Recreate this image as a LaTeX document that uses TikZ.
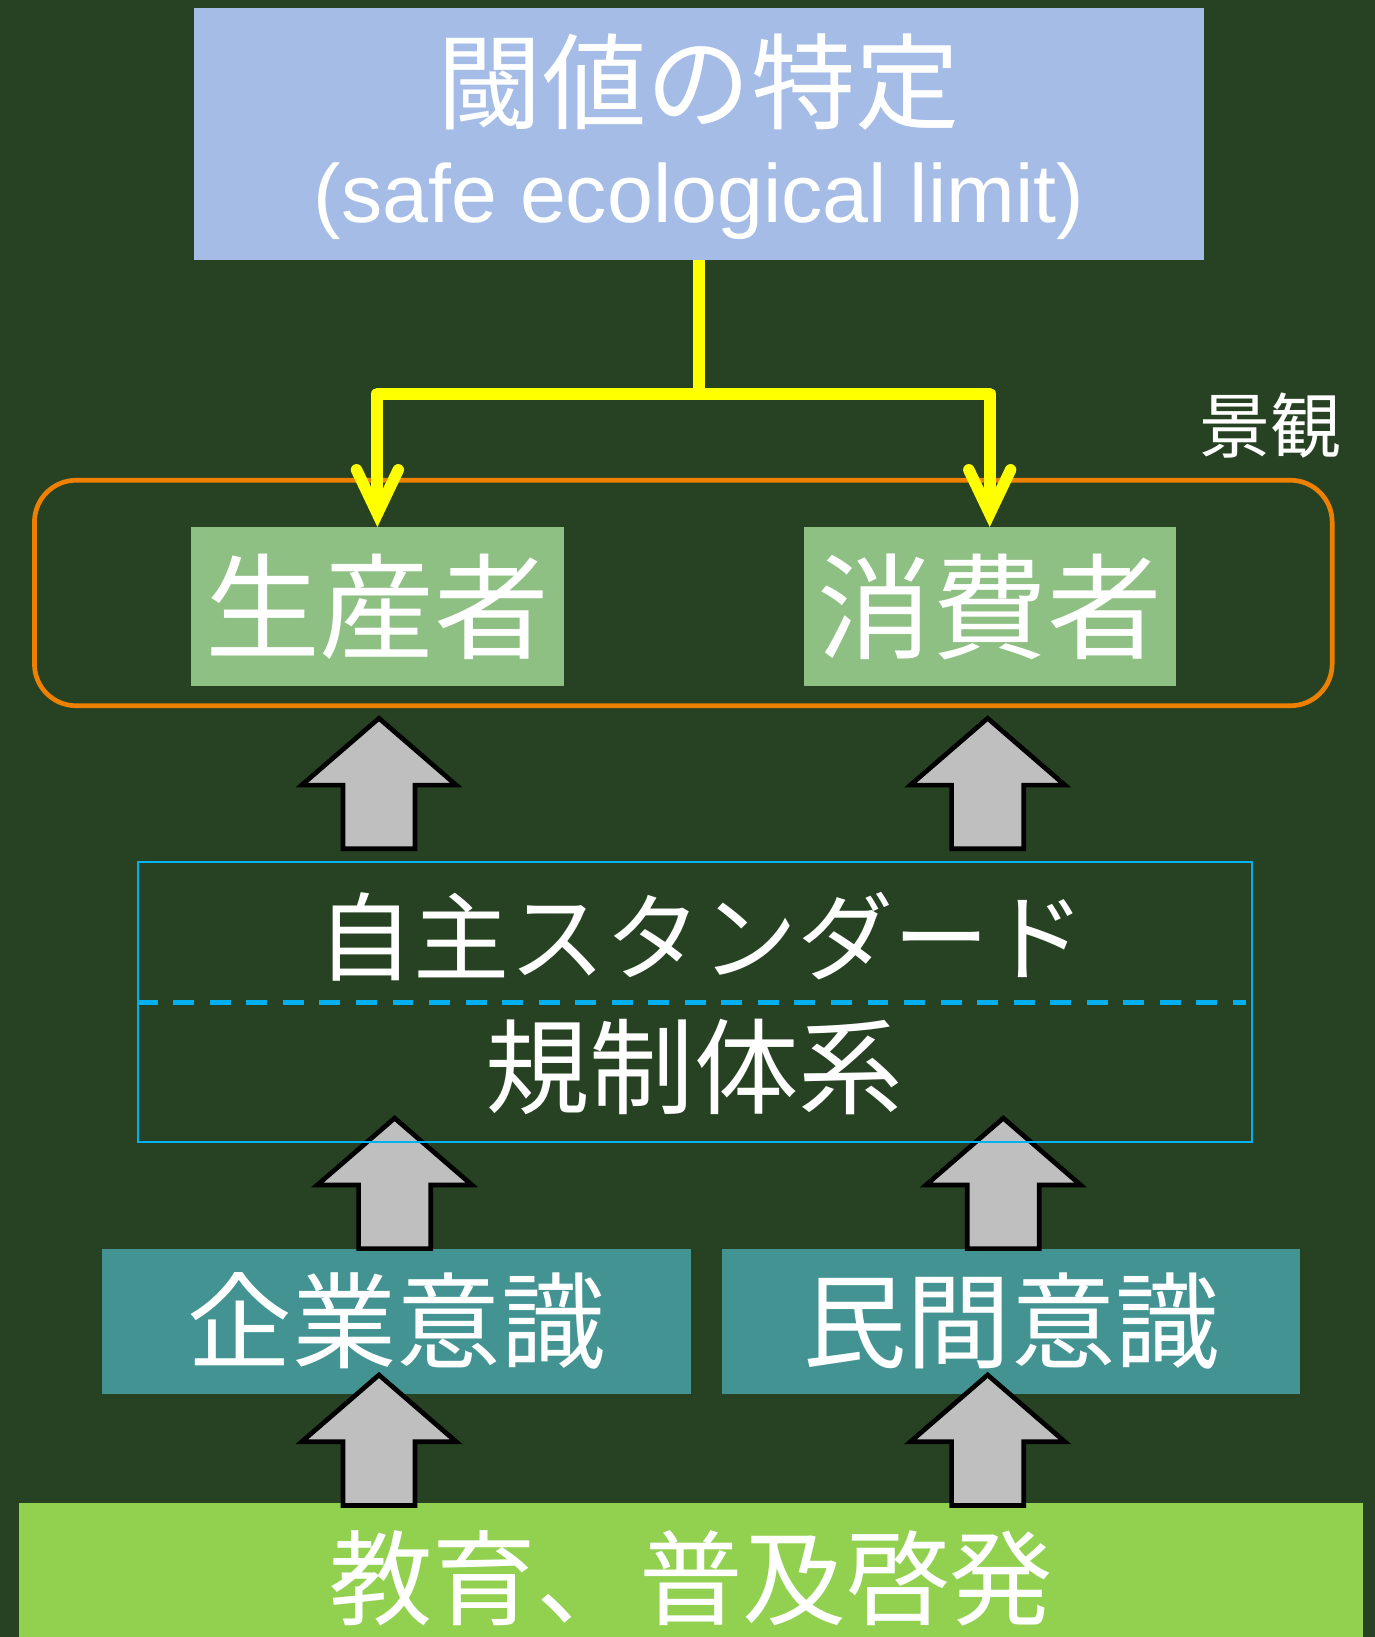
\documentclass[tikz,border=0pt]{standalone}
\usepackage{fontspec}
\setmainfont{Liberation Sans}
\newfontfamily\cjk{Noto Sans CJK JP}
\usetikzlibrary{arrows.meta,calc}
\definecolor{bgc}{RGB}{39,66,34}
\definecolor{topblue}{RGB}{165,188,230}
\definecolor{leaf}{RGB}{143,192,131}
\definecolor{tealc}{RGB}{67,147,147}
\definecolor{lime}{RGB}{146,208,80}
\definecolor{orangec}{RGB}{238,128,0}
\definecolor{yel}{RGB}{255,255,0}
\definecolor{sky}{RGB}{0,176,240}
\definecolor{blockgray}{RGB}{191,191,191}
\tikzset{
  box/.style={rectangle, inner sep=0pt, text=white},
  cjkfont/.style={font=\cjk\fontsize{#1}{#1}\selectfont},
  txt/.style={inner sep=0pt, text=white},
  yarrow/.style={draw=yel, line width=11.5pt, line join=round,
    -{Straight Barb[length=42pt,width=40pt,line width=11pt,line cap=round,line join=miter]}},
  blockstyle/.style={fill=blockgray, draw=black, line width=4.5pt, line join=miter},
  uparrow/.pic={\draw[blockstyle] (-34.5,0) -- (-34.5,-61) -- (-74,-61) -- (0,-125) -- (74,-61) -- (34.5,-61) -- (34.5,0) -- cycle;}
}
\begin{document}
\begin{tikzpicture}[x=1pt,y=-1pt]
\useasboundingbox (0,0) rectangle (1317,1568);
\fill[bgc] (0,0) rectangle (1317,1568);

% top box
\node[box, fill=topblue, minimum width=967pt, minimum height=241pt] (top) at (669.5,128.5) {};
\node[txt, cjkfont=100] (toptitle) at (669.5,79) {閾値の特定};
\node[txt, font=\fontsize{79}{79}\selectfont] (topsub) at (669.5,193) {(safe ecological limit)};

% landscape frame
\node[draw=orangec, line width=4.5pt, rounded corners=40pt, minimum width=1243pt, minimum height=216pt, inner sep=0pt] (scene) at (654.5,568) {};
\node[txt, cjkfont=68] (keikan) at (1217,408) {景観};

\node[box, fill=leaf, minimum width=357pt, minimum height=152pt, cjkfont=110] (prod) at (361.5,581) {生産者};
\node[box, fill=leaf, minimum width=356pt, minimum height=152pt, cjkfont=110] (cons) at (948,581) {消費者};

% yellow connectors
\coordinate (fork) at (669.5,377);
\draw[yarrow] (top.south) -- (fork) -| (prod.north);
\draw[yarrow] (top.south) -- (fork) -| (cons.north);

% awareness boxes
\node[box, fill=tealc, minimum width=564pt, minimum height=139pt, cjkfont=100] (kigyo) at (380,1265.5) {企業意識};
\node[box, fill=tealc, minimum width=553pt, minimum height=139pt, cjkfont=100] (minkan) at (968.5,1265.5) {民間意識};

% education box
\node[box, fill=lime, minimum width=1288pt, minimum height=144pt, cjkfont=99] (edu) at (662,1512) {教育、普及啓発};

% block arrows
\pic at (363,813) {uparrow};
\pic at (946,813) {uparrow};
\pic at (378,1196) {uparrow};
\pic at (961,1196) {uparrow};
\pic at (363,1442) {uparrow};
\pic at (946,1442) {uparrow};

% rules box
\node[draw=sky, line width=2pt, minimum width=1067pt, minimum height=268pt, inner sep=0pt] (rules) at (665.5,960) {};
\draw[sky, line width=4.5pt, dash pattern=on 20pt off 15pt] (rules.west) -- ($(rules.east)+(-7,0)$);
\node[txt, cjkfont=92] (jishu) at (672,897) {自主スタンダード};
\node[txt, cjkfont=100] (kisei) at (665,1022) {規制体系};
\end{tikzpicture}
\end{document}
